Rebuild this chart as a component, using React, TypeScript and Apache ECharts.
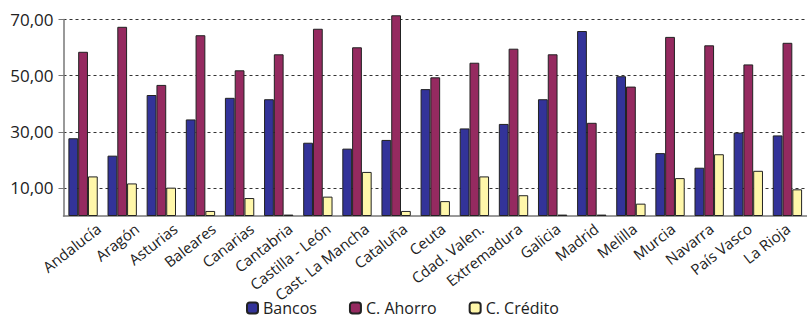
import React, { useEffect, useRef } from "react";
import * as echarts from "echarts";

const regions = [
  "Andalucía", "Aragón", "Asturias", "Baleares", "Canarias", "Cantabria",
  "Castilla - León", "Cast. La Mancha", "Cataluña", "Ceuta", "Cdad. Valen.",
  "Extremadura", "Galicia", "Madrid", "Melilla", "Murcia", "Navarra",
  "País Vasco", "La Rioja",
];

const bancos = [
  27.7, 21.5, 43.1, 34.4, 42.1, 41.6, 26.1, 24.0, 27.1, 45.2,
  31.2, 32.8, 41.6, 65.9, 49.8, 22.4, 17.2, 29.7, 28.7,
];
const cAhorro = [
  58.5, 67.4, 46.7, 64.4, 51.9, 57.6, 66.7, 60.1, 71.5, 49.4,
  54.6, 59.6, 57.6, 33.2, 46.1, 63.8, 60.8, 54.0, 61.7,
];
const cCredito = [
  14.1, 11.6, 10.1, 1.8, 6.4, 0.5, 6.9, 15.7, 1.8, 5.3,
  14.1, 7.4, 0.5, 0.5, 4.4, 13.5, 22.0, 16.1, 9.5,
];

const yTicks = [10, 30, 50, 70];

const font = "'Open Sans', 'Noto Sans', sans-serif";

// category labels sit a little to the right of their slot
const labelShift = 16;

export default function App() {
  const ref = useRef<HTMLDivElement>(null);

  useEffect(() => {
    if (!ref.current) return;
    const chart = echarts.init(ref.current, null, { renderer: "svg" });

    const bar = (name: string, data: number[], color: string) => ({
      name,
      type: "bar",
      data,
      clip: false,
      barGap: "0%",
      barCategoryGap: "25%",
      itemStyle: { color, borderColor: "#222", borderWidth: 1 },
    });

    chart.setOption({
      animation: false,
      textStyle: { fontFamily: font },
      grid: [
        { left: 63.5, top: 19.5, right: 0, bottom: 104 },
        { left: 63.5 + labelShift, top: 19.5, right: -labelShift, bottom: 104 },
      ],
      legend: {
        left: 246,
        top: 300,
        padding: 0,
        itemWidth: 11,
        itemHeight: 11,
        itemGap: 32,
        textStyle: { fontSize: 16, color: "#222", fontFamily: font },
        data: ["Bancos", "C. Ahorro", "C. Crédito"],
      },
      xAxis: [
        {
          type: "category",
          data: regions,
          gridIndex: 0,
          axisLine: { lineStyle: { color: "#777", width: 1.5 } },
          axisTick: { length: 4, lineStyle: { color: "#777" } },
          axisLabel: { show: false },
        },
        {
          type: "category",
          data: regions,
          gridIndex: 1,
          offset: 2.5,
          axisLine: { show: false },
          axisTick: { show: false },
          axisLabel: {
            rotate: 38,
            fontSize: 15,
            color: "#222",
            margin: 8,
            interval: 0,
            fontFamily: font,
          },
        },
      ],
      yAxis: [
        {
          type: "value",
          gridIndex: 0,
          min: 0,
          max: 70,
          axisLine: { show: true, lineStyle: { color: "#777", width: 1.5 } },
          axisTick: {
            show: true,
            length: 5,
            customValues: yTicks,
            lineStyle: { color: "#777" },
          },
          axisLabel: {
            customValues: yTicks,
            fontSize: 17,
            color: "#222",
            margin: 10,
            fontFamily: font,
            formatter: (v: number) => v.toFixed(2).replace(".", ","),
          },
          splitLine: {
            show: true,
            lineStyle: { color: "#333", type: [3, 3], width: 1 },
          },
        },
        { type: "value", gridIndex: 1, min: 0, max: 70, show: false },
      ],
      series: [
        bar("Bancos", bancos, "#333399"),
        bar("C. Ahorro", cAhorro, "#952a60"),
        bar("C. Crédito", cCredito, "#fff7aa"),
      ],
    });

    return () => chart.dispose();
  }, []);

  return <div ref={ref} style={{ width: 807, height: 320, position: "absolute", left: 0, top: 0 }} />;
}
